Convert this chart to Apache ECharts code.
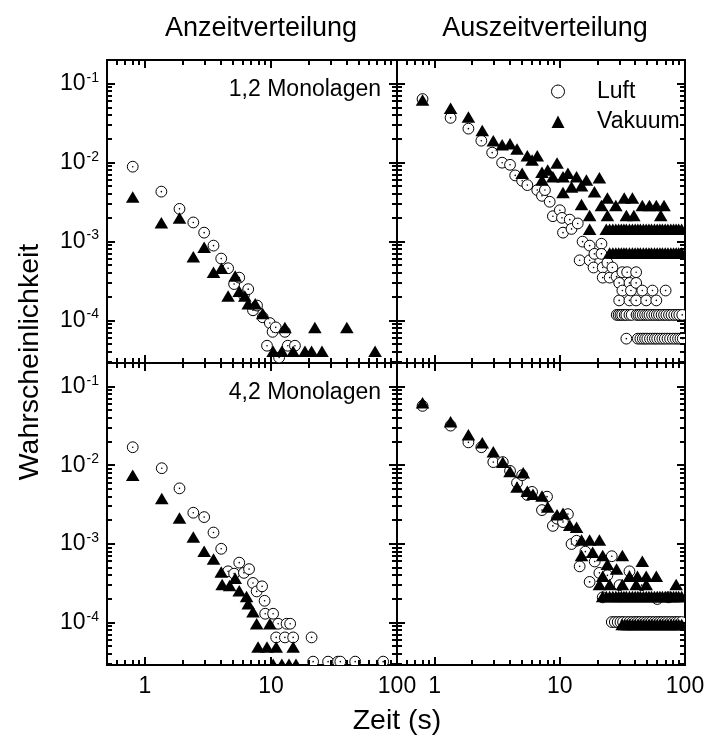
<!DOCTYPE html>
<html><head><meta charset="utf-8">
<script src="https://cdn.jsdelivr.net/npm/echarts@6/dist/echarts.min.js"></script>
<style>html,body{margin:0;padding:0;background:#fff}#c{width:708px;height:747px}</style>
</head><body><div id="c"></div>
<script>
const FONT = '"Liberation Sans", Arial, Helvetica, sans-serif';

// ---- axis ticks (log axes) ----
const xMajorTicks = [1, 10, 100];
const xMinorTicks = [0.6, 0.7, 0.8, 0.9, 2, 3, 4, 5, 6, 7, 8, 9, 20, 30, 40, 50, 60, 70, 80, 90];
const yMajorTicks = [1e-4, 1e-3, 1e-2, 1e-1];
const yMinorTicks = [3e-5, 4e-5, 5e-5, 6e-5, 7e-5, 8e-5, 9e-5,
  2e-4, 3e-4, 4e-4, 5e-4, 6e-4, 7e-4, 8e-4, 9e-4,
  2e-3, 3e-3, 4e-3, 5e-3, 6e-3, 7e-3, 8e-3, 9e-3,
  2e-2, 3e-2, 4e-2, 5e-2, 6e-2, 7e-2, 8e-2, 9e-2];
const xMin = 0.5, xMax = 100, yMin = 2.9e-5, yMax = 0.2;

const columnTitles = ['Anzeitverteilung', 'Auszeitverteilung'];
const panelLabels = ['1,2 Monolagen', '4,2 Monolagen'];
const seriesNames = ['Luft', 'Vakuum'];

// ---- data: [time (s), probability] ----
// top-left: Anzeit, 1,2 Monolagen
const tlLuft = [[0.8, 8.9e-3], [1.35, 4.3e-3], [1.88, 2.6e-3], [2.42, 1.75e-3], [2.95, 1.3e-3],
  [3.5, 8.9e-4], [4.03, 6.1e-4], [4.57, 4.6e-4], [5.1, 2.9e-4], [5.6, 3.5e-4], [6.1, 2.1e-4],
  [6.6, 2.5e-4], [7.2, 1.35e-4], [7.75, 1.55e-4], [8.6, 1.1e-4], [9.3, 4.8e-5], [9.8, 9.3e-5],
  [10.3, 7.2e-5], [10.9, 8.2e-5], [11.6, 3.4e-5], [12.9, 7.2e-5], [13.6, 4.8e-5], [15.5, 4.8e-5]];
const tlVak = [[0.8, 3.6e-3], [1.35, 1.7e-3], [1.88, 1.95e-3], [2.42, 6.3e-4], [2.95, 8.3e-4],
  [3.5, 4.0e-4], [4.05, 4.5e-4], [4.57, 2.0e-4], [5.2, 3.6e-4], [5.6, 2.3e-4], [6.2, 2.0e-4],
  [6.6, 1.6e-4], [7.5, 1.6e-4], [8.6, 1.2e-4], [10.4, 4e-5], [12.2, 4e-5], [12.9, 8e-5],
  [15, 4e-5], [18.6, 4e-5], [21, 4e-5], [22.3, 8e-5], [25.4, 4e-5], [40, 8e-5], [67, 4e-5]];

// top-right: Auszeit, 1,2 Monolagen
const trLuft = [[0.8, 0.064], [1.34, 0.037], [1.86, 0.027], [2.36, 0.019], [2.88, 0.0134],
  [3.46, 0.0100], [4.0, 0.0094], [4.4, 0.0069], [5.0, 0.0059], [5.5, 0.0052], [6.6, 0.0045],
  [7.2, 0.0038], [7.6, 0.0045], [8.3, 0.0032], [8.8, 0.0021], [10.0, 0.0025], [10.4, 0.0020],
  [10.6, 0.0013], [12.0, 0.0019], [12.4, 0.00145], [13.9, 0.0017], [14.4, 0.00058], [15.2, 0.0010],
  [17.3, 0.00089], [17.3, 0.00058], [18.6, 0.00047], [18.9, 0.0007], [21.5, 0.00094], [21.5, 0.0007],
  [22, 0.00047], [22, 0.00035], [24, 0.00054], [25, 0.00035], [26.3, 0.00047], [28.4, 0.00036],
  [29.8, 0.0003], [29.8, 0.00018], [31.6, 0.00041], [31.6, 0.00024], [34.5, 0.00041], [36, 0.0003],
  [36, 0.00018], [37, 0.00024], [40.7, 0.00041], [40.7, 0.0003], [40.7, 0.00018], [45.6, 0.00024],
  [49, 0.00018], [55, 0.00024], [59, 0.00018], [70, 0.00024]];
const trLuftRow2Level = 1.18e-4;
const trLuftRow2T = [28.5, 29.5, 30.5, 31.5, 33, 34, 36, 37.5, 41, 42.5, 44, 46, 48, 50, 52, 54.5,
  57, 59.5, 62, 65, 68, 71, 74.5, 78, 82, 86, 90, 95];
const trLuftRow1Level = 5.9e-5;
const trLuftRow1T = [34, 42, 44, 46, 48, 50, 52.5, 55, 57.5, 60, 63, 66, 69, 72.5, 76, 80, 84, 88, 92, 96];
const trVak = [[0.8, 0.061], [1.34, 0.048], [1.86, 0.037], [2.4, 0.025], [2.94, 0.0185],
  [3.46, 0.0165], [4.0, 0.017], [4.55, 0.0146], [5.0, 0.0072], [5.5, 0.012], [6.0, 0.0106],
  [6.6, 0.012], [7.2, 0.0074], [7.2, 0.0059], [8.0, 0.0079], [8.8, 0.0065], [9.5, 0.0097],
  [10.6, 0.0065], [10.6, 0.0041], [11.6, 0.0072], [12.4, 0.0048], [13.6, 0.0065], [14.9, 0.005],
  [14.9, 0.0029], [16.3, 0.0059], [17.3, 0.0021], [17.3, 0.0014], [18.9, 0.0042], [20.7, 0.0063],
  [21.5, 0.0028], [24, 0.0035], [24, 0.0021], [28, 0.0028], [32.7, 0.0035], [34, 0.0021],
  [38, 0.0035], [39, 0.0021], [45.6, 0.0028], [52, 0.0028], [59, 0.0028], [64, 0.0021], [68, 0.0028]];
const trVakRow2Level = 0.0014;
const trVakRow2T = [23.5, 25, 26.5, 28, 29.5, 31, 32.5, 34, 36, 38, 40, 42, 44, 46.5, 49, 51.5, 54,
  57, 60, 63, 66, 69.5, 73, 77, 81, 85, 89, 94];
const trVakRow1Level = 0.0007;
const trVakRow1T = [25, 26.5, 28, 29.5, 31, 32.5, 34, 36, 38, 40, 42, 44, 46.5, 49, 51.5, 54, 57,
  60, 63, 66, 69.5, 73, 77, 81, 85, 89, 94];

// bottom-left: Anzeit, 4,2 Monolagen
const blLuft = [[0.8, 0.017], [1.36, 0.0092], [1.88, 0.0051], [2.42, 0.0025], [2.95, 0.0022],
  [3.5, 0.0014], [4.03, 0.00087], [4.57, 0.00045], [5.1, 0.00042], [5.6, 0.00058], [6.1, 0.00043],
  [6.7, 0.00048], [7.2, 0.00032], [7.7, 0.00025], [8.5, 0.00029], [8.9, 0.00019], [9.0, 0.00013],
  [10.4, 0.00013], [11.0, 6.5e-5], [11.4, 9.7e-5], [12.9, 6.5e-5], [13.3, 9.7e-5], [14.2, 9.7e-5],
  [15, 6.5e-5], [21, 6.5e-5], [21.6, 3.2e-5], [28.4, 3.2e-5], [34, 3.2e-5], [35.5, 3.2e-5],
  [46.6, 3.2e-5], [77.7, 3.2e-5]];
const blVak = [[0.8, 0.0073], [1.36, 0.0037], [1.88, 0.0021], [2.42, 0.0012], [2.95, 0.00079],
  [3.5, 0.00063], [4.03, 0.00043], [4.1, 0.0003], [4.7, 0.00029], [5.2, 0.00036], [5.6, 0.00025],
  [6.4, 0.00021], [6.6, 0.00017], [7.2, 0.000135], [7.7, 9.5e-5], [9.8, 9.5e-5], [7.9, 4.8e-5],
  [9.3, 4.8e-5], [11, 4.8e-5], [15, 4.8e-5], [10.4, 2.9e-5], [12.2, 2.9e-5], [13.9, 2.9e-5], [15.8, 2.9e-5]];

// bottom-right: Auszeit, 4,2 Monolagen
const brLuft = [[0.8, 0.057], [1.34, 0.032], [1.86, 0.0196], [2.36, 0.017], [2.94, 0.011],
  [3.5, 0.011], [4.0, 0.0085], [4.55, 0.006], [5.0, 0.0075], [5.5, 0.0042], [6.0, 0.0046],
  [7.2, 0.0027], [7.9, 0.004], [8.8, 0.0017], [9.5, 0.0021], [10.6, 0.0019], [11.6, 0.0024],
  [12.4, 0.001], [13.6, 0.0011], [14.4, 0.00052], [16, 0.0008], [17.3, 0.00033], [19, 0.0006],
  [20.7, 0.00043], [22, 0.00021], [24, 0.0004], [26, 0.0007], [30, 0.0003], [36, 0.00045],
  [45, 0.0003], [60, 0.0002], [74, 0.00021]];
const brLuftRow1Level = 1.02e-4;
const brLuftRow1T = [26, 27.5, 29, 30.5, 32, 34, 36, 38, 40, 42, 44, 46.5, 49, 51.5, 54, 57, 60,
  63, 66, 69.5, 73, 77, 81, 85, 89, 94];
const brVak = [[0.8, 0.061], [1.34, 0.035], [1.86, 0.024], [2.4, 0.019], [2.94, 0.0146],
  [3.5, 0.0107], [4.0, 0.0082], [4.55, 0.0052], [5.1, 0.0079], [5.5, 0.0046], [6.1, 0.0042],
  [7.2, 0.004], [8.0, 0.0029], [9.5, 0.0023], [10.6, 0.0024], [12, 0.0017], [13.6, 0.0016],
  [14.9, 0.0011], [14.9, 0.0007], [17.3, 0.0011], [18.3, 0.00077], [20.7, 0.0011], [20.7, 0.0003],
  [22, 0.0007], [22, 0.00038], [24, 0.00054], [25, 0.0003], [28.4, 0.00047], [31.6, 0.0007],
  [31.6, 0.0003], [36, 0.00038], [40.7, 0.0003], [41.7, 0.00038], [45.6, 0.00059], [49, 0.00038],
  [49, 0.0003], [59, 0.00038], [85, 0.0003]];
const brVakRow2Level = 2.1e-4;
const brVakRow2T = [22, 23.5, 25, 26.5, 28, 29.5, 31, 32.5, 34, 36, 38, 40, 42, 44, 46.5, 49, 51.5,
  54, 57, 60, 63, 66, 69.5, 73, 77, 81, 85, 89, 94];
const brVakRow1Level = 9.3e-5;
const brVakRow1T = [31.5, 33, 34.5, 36, 38, 40, 42, 44, 46.5, 49, 51.5, 54, 57, 60, 63, 66, 69.5,
  73, 77, 81, 85, 89, 94];

function withRow(points, ts, level) { return points.concat(ts.map(t => [t, level])); }

const panels = [
  { luft: tlLuft, vak: tlVak },
  { luft: withRow(withRow(trLuft, trLuftRow2T, trLuftRow2Level), trLuftRow1T, trLuftRow1Level),
    vak: withRow(withRow(trVak, trVakRow2T, trVakRow2Level), trVakRow1T, trVakRow1Level) },
  { luft: blLuft, vak: blVak },
  { luft: withRow(brLuft, brLuftRow1T, brLuftRow1Level),
    vak: withRow(withRow(brVak, brVakRow2T, brVakRow2Level), brVakRow1T, brVakRow1Level) }
];

// ---- layout ----
const grids = [
  { left: 107, top: 60, width: 290, height: 303 },
  { left: 397, top: 60, width: 288, height: 303 },
  { left: 107, top: 363, width: 290, height: 302 },
  { left: 397, top: 363, width: 288, height: 302 }
];

function isPow10(v) { const e = Math.log10(v); return Math.abs(e - Math.round(e)) < 1e-6; }

function circleItem(params, api) {
  const p = api.coord([api.value(0), api.value(1)]);
  return { type: 'group', children: [
    { type: 'circle', shape: { cx: p[0], cy: p[1], r: 5.4 }, style: { fill: '#fff', stroke: '#000', lineWidth: 1 } },
    { type: 'circle', shape: { cx: p[0], cy: p[1], r: 0.8 }, style: { fill: '#000' } }
  ] };
}
function triItem(params, api) {
  const p = api.coord([api.value(0), api.value(1)]);
  const x = p[0], y = p[1];
  return { type: 'polygon', shape: { points: [[x, y - 6.5], [x + 6.8, y + 5], [x - 6.8, y + 5]] }, style: { fill: '#000' } };
}
function tickItem(params, api) {
  const cs = params.coordSys;
  const kind = api.value(2), major = api.value(3);
  const len = major ? 8 : 5;
  const p = api.coord([api.value(0), api.value(1)]);
  const st = { stroke: '#000', lineWidth: 2 };
  if (kind === 0) {
    const x = Math.round(p[0]);
    return { type: 'group', children: [
      { type: 'line', shape: { x1: x, y1: cs.y + cs.height, x2: x, y2: cs.y + cs.height - len }, style: st },
      { type: 'line', shape: { x1: x, y1: cs.y, x2: x, y2: cs.y + len }, style: st }
    ] };
  }
  const y = Math.round(p[1]);
  return { type: 'group', children: [
    { type: 'line', shape: { x1: cs.x, y1: y, x2: cs.x + len, y2: y }, style: st },
    { type: 'line', shape: { x1: cs.x + cs.width, y1: y, x2: cs.x + cs.width - len, y2: y }, style: st }
  ] };
}
const tickData = [].concat(
  xMajorTicks.map(v => [v, yMin * 1.5, 0, 1]),
  xMinorTicks.map(v => [v, yMin * 1.5, 0, 0]),
  yMajorTicks.map(v => [xMin * 1.5, v, 1, 1]),
  yMinorTicks.map(v => [xMin * 1.5, v, 1, 0])
);

// legend icons: the triangle is drawn centred in a wide, aspect-preserving box
const triIcon = 'path://M0,0L0.01,0L0,0.01Z M27.5,13L34,0.5L40.5,13Z M68,13L67.99,13L68,12.99Z';

const option = {
  animation: false,
  backgroundColor: '#fff',
  color: ['#000'],
  grid: grids.map(g => Object.assign({ show: true, borderColor: '#000', borderWidth: 2, backgroundColor: 'transparent' }, g)),
  xAxis: grids.map((g, i) => ({
    type: 'log', gridIndex: i, min: xMin, max: xMax, logBase: 10,
    axisLine: { show: false }, axisTick: { show: false }, splitLine: { show: false },
    minorTick: { show: false }, minorSplitLine: { show: false },
    axisLabel: {
      show: i >= 2, showMaxLabel: true, showMinLabel: true, margin: 10,
      fontSize: 23, fontFamily: FONT, color: '#000',
      formatter: v => isPow10(v) ? String(Math.round(v)) : ''
    }
  })),
  yAxis: grids.map((g, i) => ({
    type: 'log', gridIndex: i, min: yMin, max: yMax, logBase: 10,
    axisLine: { show: false }, axisTick: { show: false }, splitLine: { show: false },
    minorTick: { show: false }, minorSplitLine: { show: false },
    axisLabel: {
      show: i % 2 === 0, showMaxLabel: true, showMinLabel: true, margin: 8,
      formatter: v => isPow10(v) ? '{b|10}{s|' + Math.round(Math.log10(v)) + '}' : '',
      rich: {
        b: { fontSize: 23, fontFamily: FONT, color: '#000', lineHeight: 26 },
        s: { fontSize: 14, fontFamily: FONT, color: '#000', verticalAlign: 'top', lineHeight: 14, padding: [0, 0, 0, 1] }
      }
    }
  })),
  legend: {
    orient: 'vertical', left: 519, top: 75, itemWidth: 68, itemHeight: 13, itemGap: 7,
    selectedMode: false, symbolKeepAspect: true,
    textStyle: { fontSize: 23, fontFamily: FONT, color: '#000' },
    data: [
      { name: seriesNames[0], icon: 'circle', itemStyle: { color: '#fff', borderColor: '#000', borderWidth: 1 } },
      { name: seriesNames[1], icon: triIcon, itemStyle: { color: '#000', borderWidth: 0 } }
    ]
  },
  graphic: [
    { type: 'text', x: 261, y: 29, style: { text: columnTitles[0], fontSize: 27, fontFamily: FONT, fill: '#000', align: 'center', verticalAlign: 'middle' } },
    { type: 'text', x: 545, y: 29, style: { text: columnTitles[1], fontSize: 27, fontFamily: FONT, fill: '#000', align: 'center', verticalAlign: 'middle' } },
    { type: 'text', x: 30, y: 362, rotation: Math.PI / 2, style: { text: 'Wahrscheinlichkeit', fontSize: 28.5, fontFamily: FONT, fill: '#000', align: 'center', verticalAlign: 'middle' } },
    { type: 'text', x: 397, y: 721, style: { text: 'Zeit (s)', fontSize: 28.5, fontFamily: FONT, fill: '#000', align: 'center', verticalAlign: 'middle' } },
    { type: 'text', x: 381, y: 90, style: { text: panelLabels[0], fontSize: 23, fontFamily: FONT, fill: '#000', align: 'right', verticalAlign: 'middle' } },
    { type: 'text', x: 381, y: 393, style: { text: panelLabels[1], fontSize: 23, fontFamily: FONT, fill: '#000', align: 'right', verticalAlign: 'middle' } }
  ],
  series: []
};

panels.forEach((p, i) => {
  option.series.push({
    name: seriesNames[0], type: 'custom', xAxisIndex: i, yAxisIndex: i, clip: true, z: 2,
    renderItem: circleItem, data: p.luft, encode: { x: 0, y: 1 }
  });
  option.series.push({
    name: seriesNames[1], type: 'custom', xAxisIndex: i, yAxisIndex: i, clip: true, z: 2,
    renderItem: triItem, data: p.vak, encode: { x: 0, y: 1 }
  });
  option.series.push({
    name: 'ticks' + i, type: 'custom', xAxisIndex: i, yAxisIndex: i, clip: false, z: 4, silent: true,
    renderItem: tickItem, data: tickData, encode: { x: 0, y: 1 }
  });
});

const chart = echarts.init(document.getElementById('c'), null, { renderer: 'canvas' });
chart.setOption(option);
</script>
</body></html>
